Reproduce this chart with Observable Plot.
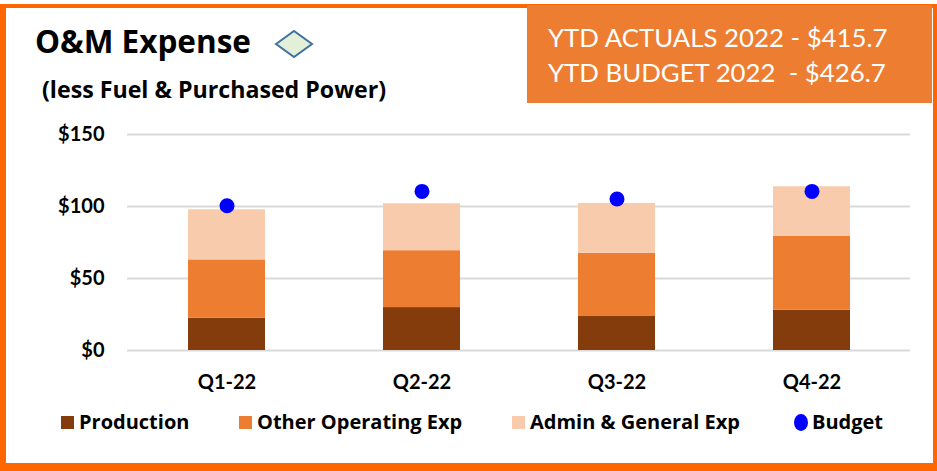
<!DOCTYPE html>
<html>
<head>
<meta charset="utf-8">
<script src="https://cdn.jsdelivr.net/npm/d3@7"></script>
<script src="https://cdn.jsdelivr.net/npm/@observablehq/plot@0.6"></script>
<style>
  html, body { margin: 0; padding: 0; background: #fff; }
  #root { position: relative; width: 937px; height: 471px; overflow: hidden; background: #fff; font-family: Lato, "Open Sans", sans-serif; }
  #frame { position: absolute; left: 0; top: 4px; width: 937px; height: 467px; box-sizing: border-box;
           border-style: solid; border-color: #FF6600; border-width: 4px 4px 8px 6px; }
  #title { position: absolute; left: 35px; top: 25px; font-family: "Open Sans", sans-serif; font-weight: 700; font-size: 31.5px; line-height: 1; color: #000; white-space: nowrap; }
  #diamond { position: absolute; left: 274px; top: 29px; }
  #subtitle { position: absolute; left: 42px; top: 77.5px; font-family: "Open Sans", sans-serif; font-weight: 700; font-size: 23.2px; line-height: 1; color: #000; white-space: nowrap; }
  #ytd { position: absolute; left: 527px; top: 5px; width: 405px; height: 98px; background: #ED7D31; color: #fff; }
  #ytd div { position: absolute; left: 21px; font-size: 25.8px; white-space: pre; }
  #chart { position: absolute; left: 0; top: 114px; }
  .leg { position: absolute; top: 412px; font-family: "Open Sans", sans-serif; font-weight: 700; font-size: 20px; line-height: 1; color: #000; white-space: nowrap; display: flex; align-items: center; }
  .sw { display: inline-block; width: 13px; height: 13px; margin-right: 5px; }
  .dotsw { display: inline-block; width: 14px; height: 17px; border-radius: 50%; margin-right: 4px; }
</style>
</head>
<body>
<div id="root">
  <div id="frame"></div>
  <div id="title">O&amp;M Expense</div>
  <svg id="diamond" width="42" height="32"><polygon points="2,15 20,2 38,15 20,28" fill="#E2F0D9" stroke="#41719C" stroke-width="2"/></svg>
  <div id="subtitle">(less Fuel &amp; Purchased Power)</div>
  <div id="ytd"><div id="ytd1" style="top:17px"></div><div id="ytd2" style="top:52px"></div></div>
  <div id="chart"></div>
  <div id="legend"></div>
</div>
<script>
const quarters = ["Q1-22", "Q2-22", "Q3-22", "Q4-22"];
const production = [22.4, 29.8, 23.6, 28.0];
const otherOperating = [40.5, 39.5, 43.9, 51.3];
const adminGeneral = [34.8, 32.6, 34.6, 34.4];
const budget = [100.5, 110.5, 105.2, 110.5];
const seriesNames = ["Production", "Other Operating Exp", "Admin & General Exp"];
const seriesColors = ["#843C0C", "#ED7D31", "#F8CBAD"];
const budgetName = "Budget";
const budgetColor = "#0000FF";
const yTicks = [0, 50, 100, 150];
const ytdActualsLabel = "YTD ACTUALS 2022 - $415.7";
const ytdBudgetLabel = "YTD BUDGET 2022  - $426.7";

document.getElementById("ytd1").textContent = ytdActualsLabel;
document.getElementById("ytd2").textContent = ytdBudgetLabel;

const seriesValues = [production, otherOperating, adminGeneral];
const rows = [];
seriesNames.forEach((s, si) => quarters.forEach((q, qi) => rows.push({quarter: q, series: s, value: seriesValues[si][qi]})));
const budgetRows = quarters.map((q, i) => ({quarter: q, value: budget[i]}));

const chart = Plot.plot({
  width: 937,
  height: 290,
  marginLeft: 127,
  marginRight: 27,
  marginTop: 20,
  marginBottom: 54,
  style: {fontFamily: "Lato, 'Open Sans', sans-serif", background: "transparent"},
  x: {domain: quarters, padding: 0, label: null},
  y: {domain: [0, 150], label: null},
  color: {domain: seriesNames, range: seriesColors},
  marks: [
    Plot.ruleY(yTicks, {stroke: "#D9D9D9", strokeWidth: 2}),
    Plot.barY(rows, Plot.stackY({order: seriesNames, x: "quarter", y: "value", fill: "series", insetLeft: 59, insetRight: 59})),
    Plot.dot(budgetRows, {x: "quarter", y: "value", r: 7.5, fill: budgetColor}),
    Plot.axisY({ticks: yTicks, tickSize: 0, tickPadding: 23, tickFormat: d => "$" + d, fontSize: 20, fontWeight: "bold", fill: "#000"}),
    Plot.axisX({tickSize: 0, tickPadding: 24, fontSize: 20, fontWeight: "bold", fill: "#000"})
  ]
});
document.getElementById("chart").appendChild(chart);

const legendX = [61, 239, 512];
const legend = document.getElementById("legend");
seriesNames.forEach((s, i) => {
  const d = document.createElement("div");
  d.className = "leg";
  d.style.left = legendX[i] + "px";
  d.innerHTML = `<span class="sw" style="background:${seriesColors[i]}"></span>`;
  d.appendChild(document.createTextNode(s));
  legend.appendChild(d);
});
const bd = document.createElement("div");
bd.className = "leg";
bd.style.left = "794px";
bd.innerHTML = `<span class="dotsw" style="background:${budgetColor}"></span>`;
bd.appendChild(document.createTextNode(budgetName));
legend.appendChild(bd);
</script>
</body>
</html>
